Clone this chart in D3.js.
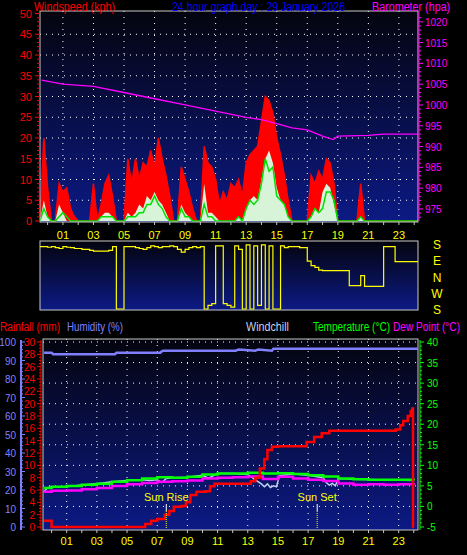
<!DOCTYPE html>
<html><head><meta charset="utf-8">
<script src="https://cdn.jsdelivr.net/npm/d3@7"></script>
<style>body{margin:0;background:#000}svg{display:block}text{font-family:"Liberation Sans",Arial,sans-serif}</style>
</head><body><svg id="c" width="467" height="555"></svg>
<script>
// ---------- data ----------
const hourTicks = [1,3,5,7,9,11,13,15,17,19,21,23];
const hourLabels = ["01","03","05","07","09","11","13","15","17","19","21","23"];
const windStart = -0.5, windStep = 0.25;
const gust = [0,20, 8,0,0,9, 7,8,3,1, 0,0,0,0, 9,0,4,9, 11,6,0,0, 0,15,9,15, 10,14,13,17, 13,20,15,11, 6,0,0,13,
  10,7,3,0, 0,18,14,13, 10,4,7,5, 9,8,10,6, 14,16,17,18, 24,30,29,26, 20,16,11,5, 0,0,0,0, 0,11,9,12, 10,15,14,9,
  0,0,0,0, 0,0,9,0, 0,0,0,0, 0,0,0,0, 0,0,0,0, 0,0];
const avgWind = [0,3, 1,0,0,1, 2,1,0,0, 0,0,0,0, 0,0,1,1, 1,1,0,0, 0,1,1,1, 2,2,4,4, 6,4,3,1, 0,0,0,3,
  1,1,0,0, 0,4,1,1, 0,0,0,0, 0,0,1,0, 3,5,4,5, 9,15,12,13, 6,5,4,1, 0,0,0,0, 0,1,3,2, 3,7,7,5,
  0,0,0,0, 0,0,1,0, 0,0,0,0, 0,0,0,0, 0,0,0,0, 0,0];
const speed = [0,5, 1,0,0,4, 2,0,0,0, 0,0,0,0, 0,0,1,2, 2,1,0,0, 0,2,1,2, 4,3,6,5, 7,5,4,2, 0,0,0,4,
  2,1,0,0, 0,9,2,2, 1,0,0,0, 0,0,1,0, 3,5,6,5, 10,15,17,14, 8,5,4,1, 0,0,0,0, 0,1,3,2, 7,9,8,4,
  0,0,0,0, 0,0,1,0, 0,0,0,0, 0,0,0,0, 0,0,0,0, 0,0];
// direction: degrees from top of panel (0 = S top, 90 = E, 180 = N, 270 = W, 360 = S bottom)
const dirPos = [15,15, 18,15,20,25, 15,18,20,25, 25,30,30,35, 40,40,40,40, 35,15,360,360, 15,15,15,20,
  25,30,20,10, 15,20,15,15, 10,15,30,45, 30,20,15,20, 15,360,340,330, 10,10,330,340, 350,10,30,360,
  5,360,10,340, 5,360,10,360, 360,10,20,15, 15,15,20,20, 95,120,130,145, 148,148,148,148, 148,148,148,230,
  230,230,175,235, 235,235,235,235, 15,15,15,98, 98,98,98,98, 98,98];
const baroHours = [-0.4,1,3,5,7,9,11,13,14,15,16,17,18,18.7,19,21,22,24.2];
const baroVals = [1006,1005,1004.5,1003,1001.5,1000,998.5,997,996.5,995.5,994.5,994,992.5,991.7,992.5,992.7,993,993];
const rainHours = [-0.5,-0.1,0,5.8,6.2,6.6,7,7.5,7.8,8.1,8.6,8.9,9.2,9.6,10.2,10.5,10.8,12.8,13.2,13.5,13.8,14.1,14.3,14.6,15,16.5,16.9,17.4,17.9,18.4,22.1,22.8,23.1,23.3,23.6,23.8,23.9,23.95,24];
const rainVals = [1,1,0,0,0.5,1,1.3,2,2.6,3.3,3.4,4,5.2,5.7,5.8,6.6,7,7,7.4,8,9.5,11,12.5,13,13.1,13.1,13.8,14.6,15.2,15.6,15.6,15.8,16.5,17.2,18,18.8,19.2,0,0];
const humHours = [-0.5,0,0.1,4.2,4.3,7.2,7.3,7.4,12.2,12.4,13.5,13.7,14.6,14.7,17,20,22,24.25];
const humVals = [94.2,94.2,93.4,93.4,94.2,94.2,95,95.3,95.3,96,95.3,96,95.3,96.4,96.4,96.4,96.4,96.4];
const tHours = [-0.5,0,1,2,3,4,5,6,7,8,9,10,11,12,13,14,15,16,17,18,19,20,21,22,23,24];
const temp = [4.5,4.8,5.0,5.3,5.5,6.0,6.4,6.8,7.1,7.0,7.2,7.8,8.0,8.0,8.2,8.0,8.1,7.9,7.6,7.3,6.8,6.6,6.5,6.5,6.5,6.3];
const dew = [3.6,3.8,3.9,4.2,4.5,5.0,5.4,5.7,6.0,6.1,6.3,6.8,7.0,7.1,7.3,6.7,7.2,6.8,6.5,6.2,5.6,5.3,5.4,5.3,5.4,5.2];
const wcHours = [-0.5,-0.3,0,1,2,3,4,5,6,6.5,7,7.3,7.6,8,9,10,10.4,11,12,13,13.3,13.6,13.9,14.1,14.3,14.5,14.7,14.9,15.1,16,17,18,18.2,18.4,18.6,18.8,19,20,24];
const windchill = [3.5,4.5,4.8,4.8,5.2,5.5,6.0,6.3,6.5,6.3,6.5,5.8,6.8,7.0,7.1,7.6,6.9,8.0,8.0,7.8,7.0,6.2,5.5,4.8,5.5,4.6,5.0,4.8,7.5,7.9,7.6,7.0,5.8,5.2,5.6,5.0,6.8,6.6,6.3];
const sunEvents = [{h:7.6,label:"Sun Rise"},{h:17.6,label:"Sun Set"}];
const dirLabels = ["S","E","N","W","S"];

// ---------- drawing ----------
const svg = d3.select("#c");
const defs = svg.append("defs");
const g = defs.append("linearGradient").attr("id","bg").attr("x1",0).attr("x2",0).attr("y1",0).attr("y2",1);
g.append("stop").attr("offset","0%").attr("stop-color","#04040e");
g.append("stop").attr("offset","100%").attr("stop-color","#0c1a85");

const whours = gust.map((d,i)=>windStart+i*windStep);
function txt(x,y,s,c,anchor,size,len){const t=svg.append("text").attr("x",x).attr("y",y).attr("fill",c).attr("font-size",size||12).attr("text-anchor",anchor||"start").text(s);
  if(len) t.attr("textLength",len).attr("lengthAdjust","spacingAndGlyphs"); return t;}

// ===== TOP PANEL =====
const T = {l:40,r:418,t:11,b:221};
const xT = d3.scaleLinear().domain([-0.5,24.25]).range([T.l,T.r]);
const yW = d3.scaleLinear().domain([0,50]).range([221,13.5]);
const yB = d3.scaleLinear().domain([972.1,1022]).range([221,13.5]);
svg.append("rect").attr("x",T.l).attr("y",T.t).attr("width",T.r-T.l).attr("height",T.b+1-T.t).attr("fill","url(#bg)");
const grid = svg.append("g").attr("stroke","#fff").attr("stroke-dasharray","1,5");
[5,10,15,20,25,30,35,40,45].forEach(v=>grid.append("line").attr("x1",T.l).attr("x2",T.r).attr("y1",yW(v)).attr("y2",yW(v)));
hourTicks.forEach(h=>grid.append("line").attr("x1",xT(h)).attr("x2",xT(h)).attr("y1",T.t).attr("y2",T.b));
const clipT = defs.append("clipPath").attr("id","ct");
clipT.append("rect").attr("x",T.l).attr("y",T.t).attr("width",T.r-T.l).attr("height",T.b-T.t+1);
const pt = svg.append("g").attr("clip-path","url(#ct)");
const areaLin = (arr,col)=>pt.append("path").datum(arr).attr("fill",col)
  .attr("d",d3.area().x((d,i)=>xT(whours[i])).y0(yW(0)).y1(d=>yW(d)));
areaLin(gust,"#ff0000");
pt.append("path").datum(gust).attr("fill","none").attr("stroke","#ff0000").attr("stroke-width",1.5)
  .attr("d",d3.line().x((d,i)=>xT(whours[i])).y(d=>yW(d)));
areaLin(speed,"#d8f4d8");
pt.append("path").datum(avgWind).attr("fill","none").attr("stroke","#00e000").attr("stroke-width",1.5)
  .attr("d",d3.line().x((d,i)=>xT(whours[i])).y(d=>yW(d)));
pt.append("path").datum(baroVals).attr("fill","none").attr("stroke","#ff00ff").attr("stroke-width",1.3)
  .attr("d",d3.line().x((d,i)=>xT(baroHours[i])).y(d=>yB(d)));
svg.append("rect").attr("x",T.l).attr("y",T.t).attr("width",T.r-T.l).attr("height",T.b+1-T.t).attr("fill","none").attr("stroke","#c8c8c8");
// left axis
const aL = svg.append("g");
d3.range(0,51).forEach(v=>aL.append("line").attr("x1",v%5?37:35).attr("x2",40).attr("y1",yW(v)).attr("y2",yW(v)).attr("stroke","#ff0000"));
d3.range(0,51,5).forEach(v=>txt(32,yW(v)+4,v,"#ff0000","end",11));
// right axis
svg.append("line").attr("x1",419).attr("x2",419).attr("y1",T.t).attr("y2",T.b).attr("stroke","#ff00ff");
d3.range(973,1022).forEach(v=>svg.append("line").attr("x1",419).attr("x2",v%5?421:423).attr("y1",yB(v)).attr("y2",yB(v)).attr("stroke","#ff00ff"));
d3.range(975,1021,5).forEach(v=>txt(425,yB(v)+4,v,"#ff00ff","start",10));
// x axis
d3.range(0,25).forEach(h=>svg.append("line").attr("x1",xT(h)).attr("x2",xT(h)).attr("y1",222).attr("y2",225).attr("stroke","#c8c8c8"));
hourTicks.forEach((h,i)=>txt(xT(h),239,hourLabels[i],"#ffff00","middle",11));
// headers
txt(34,11,"Windspeed (kph)","#ff0000","start",12,81);
txt(172,11,"24 hour graph day : 29 January 2026","#0000ff","start",12,173);
txt(372,11,"Barometer (hpa)","#ff00ff","start",12,46*1.7);

// ===== DIRECTION PANEL =====
const D = {l:40,r:418,t:241,b:310};
const yD = d3.scaleLinear().domain([0,360]).range([244,309]);
svg.append("rect").attr("x",D.l).attr("y",D.t).attr("width",D.r-D.l).attr("height",D.b-D.t).attr("fill","url(#bg)").attr("stroke","#c8c8c8");
svg.append("path").datum(dirPos).attr("fill","none").attr("stroke","#ffff00").attr("stroke-width",1.2)
  .attr("d",d3.line().curve(d3.curveStepAfter).x((d,i)=>xT(whours[i])).y(d=>yD(d)));
dirLabels.forEach((s,i)=>txt(437,yD(i*90)+5,s,"#ffff00","middle",12));

// ===== BOTTOM PANEL =====
const B = {l:43,r:418,t:339,b:530};
const xB = d3.scaleLinear().domain([-0.57,24.28]).range([B.l,B.r]);
const yR = d3.scaleLinear().domain([0,30]).range([527,342]);
const yH = d3.scaleLinear().domain([0,100]).range([527,342]);
const yT = d3.scaleLinear().domain([-5,40]).range([527,342]);
svg.append("rect").attr("x",B.l).attr("y",B.t).attr("width",B.r-B.l).attr("height",B.b-B.t).attr("fill","url(#bg)");
const gridB = svg.append("g").attr("stroke","#fff").attr("stroke-dasharray","1,5");
[0,5,10,15,20,25,30,35,40].forEach(v=>gridB.append("line").attr("x1",B.l).attr("x2",B.r).attr("y1",yT(v)).attr("y2",yT(v)));
hourTicks.forEach(h=>gridB.append("line").attr("x1",xB(h)).attr("x2",xB(h)).attr("y1",B.t).attr("y2",B.b));
const clipB = defs.append("clipPath").attr("id","cb");
clipB.append("rect").attr("x",B.l).attr("y",B.t).attr("width",B.r-B.l).attr("height",B.b-B.t);
const pb = svg.append("g").attr("clip-path","url(#cb)");
const ln = (ys,xv,yv,col,w,curve)=>pb.append("path").datum(yv).attr("fill","none").attr("stroke",col).attr("stroke-width",w)
  .attr("d",d3.line().curve(curve||d3.curveLinear).x((d,i)=>xB(xv[i])).y(d=>ys(d)));
ln(yH,humHours,humVals,"#8080ff",2.5);
ln(yT,wcHours,windchill,"#c0d0f0",1.5);
ln(yT,tHours,temp,"#00ff00",2.5,d3.curveStepAfter);
ln(yT,tHours,dew,"#ff00ff",2.5,d3.curveStepAfter);
ln(yR,rainHours,rainVals,"#ff0000",2.5,d3.curveStepAfter);
sunEvents.forEach(s=>{
  svg.append("line").attr("x1",xB(s.h)).attr("x2",xB(s.h)).attr("y1",504).attr("y2",511).attr("stroke","#fff");
  svg.append("line").attr("x1",xB(s.h)).attr("x2",xB(s.h)).attr("y1",511).attr("y2",528).attr("stroke","#ffff00").attr("stroke-dasharray","1,1");
  txt(xB(s.h),501,s.label,"#ffff00","middle",11);
});
svg.append("rect").attr("x",B.l).attr("y",B.t).attr("width",B.r-B.l).attr("height",B.b-B.t).attr("fill","none").attr("stroke","#c8c8c8");
// humidity axis
svg.append("line").attr("x1",21).attr("x2",21).attr("y1",340).attr("y2",530).attr("stroke","#8080ff").attr("stroke-width",2);
d3.range(0,101,2).forEach(v=>svg.append("line").attr("x1",21).attr("x2",v%10?23:25).attr("y1",yH(v)).attr("y2",yH(v)).attr("stroke","#8080ff"));
d3.range(0,101,10).forEach(v=>txt(16,yH(v)+4,v,"#8080ff","end",10));
// rain axis
svg.append("line").attr("x1",41).attr("x2",41).attr("y1",340).attr("y2",530).attr("stroke","#ff0000");
d3.range(0,30.1,0.5).forEach(v=>svg.append("line").attr("x1",v%2?39:37).attr("x2",41).attr("y1",yR(v)).attr("y2",yR(v)).attr("stroke","#ff0000"));
d3.range(0,31,2).forEach(v=>txt(35,yR(v)+4,v,"#ff0000","end",10));
// temperature axis
svg.append("line").attr("x1",420).attr("x2",420).attr("y1",340).attr("y2",530).attr("stroke","#00ff00");
d3.range(-5,41).forEach(v=>svg.append("line").attr("x1",420).attr("x2",v%5?422:424).attr("y1",yT(v)).attr("y2",yT(v)).attr("stroke","#00ff00"));
d3.range(-5,41,5).forEach(v=>txt(427,yT(v)+4,v,"#00ff00","start",10));
// x axis
d3.range(0,25).forEach(h=>svg.append("line").attr("x1",xB(h)).attr("x2",xB(h)).attr("y1",530).attr("y2",533).attr("stroke","#c8c8c8"));
hourTicks.forEach((h,i)=>txt(xB(h),545,hourLabels[i],"#ffff00","middle",11));
// headers
txt(0,331,"Rainfall (mm)","#ff0000","start",12,60);
txt(67,331,"Humidity (%)","#8080ff","start",12,56);
txt(246,331,"Windchill","#c0d0f0","start",12,43);
txt(313,331,"Temperature (°C)","#00ff00","start",12,77);
txt(393,331,"Dew Point (°C)","#ff00ff","start",12,67);
</script></body></html>
